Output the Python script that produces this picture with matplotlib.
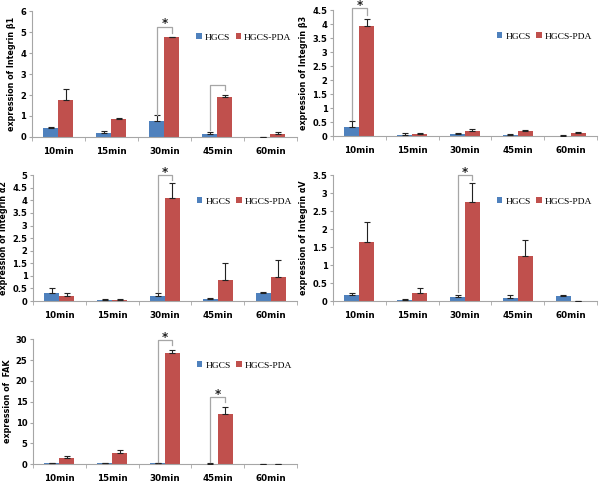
import matplotlib.pyplot as plt
import numpy as np
from matplotlib.ticker import FuncFormatter

times = ['10min', '15min', '30min', '45min', '60min']

# Integrin beta1
b1_hgcs = [0.42, 0.18, 0.75, 0.15, 0.02]
b1_hgcs_err = [0.05, 0.12, 0.30, 0.08, 0.0]
b1_pda = [1.78, 0.87, 4.78, 1.92, 0.15]
b1_pda_err = [0.52, 0.03, 0.0, 0.10, 0.07]

# Integrin beta3
b3_hgcs = [0.33, 0.03, 0.06, 0.04, 0.01]
b3_hgcs_err = [0.22, 0.07, 0.05, 0.02, 0.03]
b3_pda = [3.93, 0.06, 0.18, 0.17, 0.09]
b3_pda_err = [0.24, 0.05, 0.07, 0.03, 0.04]

# Integrin alpha2
a2_hgcs = [0.33, 0.05, 0.22, 0.10, 0.33]
a2_hgcs_err = [0.20, 0.03, 0.10, 0.03, 0.02]
a2_pda = [0.20, 0.05, 4.10, 0.85, 0.95]
a2_pda_err = [0.10, 0.02, 0.60, 0.68, 0.67]

# Integrin alphaV
av_hgcs = [0.17, 0.03, 0.12, 0.09, 0.15]
av_hgcs_err = [0.05, 0.04, 0.06, 0.09, 0.02]
av_pda = [1.64, 0.22, 2.76, 1.26, 0.0]
av_pda_err = [0.56, 0.15, 0.53, 0.43, 0.0]

# FAK
fak_hgcs = [0.20, 0.25, 0.20, 0.15, 0.02]
fak_hgcs_err = [0.10, 0.10, 0.08, 0.08, 0.0]
fak_pda = [1.40, 2.80, 26.7, 12.0, 0.05]
fak_pda_err = [0.60, 0.60, 0.70, 1.80, 0.10]

BLUE = '#4F81BD'
RED = '#C0504D'
GRAY = '#A6A6A6'
W = 0.283

fig = plt.figure(figsize=(6, 4.84), dpi=100)


def panel(rect, hgcs, hgcs_err, pda, pda_err, ymax, ystep, ylabel, brackets):
    ax = fig.add_axes(rect)
    x = np.arange(len(times))
    ax.bar(x - W / 2, hgcs, W, color=BLUE, label='HGCS', zorder=2)
    ax.bar(x + W / 2, pda, W, color=RED, label='HGCS-PDA', zorder=2)
    zeros = np.zeros(len(times))
    ax.errorbar(x - W / 2, hgcs, yerr=[zeros, hgcs_err], fmt='none', ecolor='#222222',
                elinewidth=0.8, capsize=2, capthick=0.8, zorder=3)
    ax.errorbar(x + W / 2, pda, yerr=[zeros, pda_err], fmt='none', ecolor='#222222',
                elinewidth=0.8, capsize=2, capthick=0.8, zorder=3)

    for i, y_left, y_top, y_right, star in brackets:
        ax.plot([i - W / 2, i - W / 2, i + W / 2, i + W / 2], [y_left, y_top, y_top, y_right],
                color=GRAY, lw=0.9, clip_on=False, zorder=4)
        if star:
            ax.annotate('*', (i, y_top), xytext=(0, -2.5), textcoords='offset points',
                        ha='center', va='bottom', fontsize=8.5, fontweight='bold',
                        color='#222222', annotation_clip=False)

    ax.set_xlim(-0.5, len(times) - 0.5)
    ax.set_ylim(0, ymax)
    ax.set_yticks(np.arange(0, ymax + ystep / 2, ystep))
    ax.yaxis.set_major_formatter(FuncFormatter(lambda v, p: f'{v:g}'))
    ax.set_xticks(x)
    ax.set_xticklabels(times)
    ax.set_xticks(np.arange(-0.5, len(times)), minor=True)
    ax.tick_params(axis='x', which='major', length=0, pad=7, labelsize=6.3)
    ax.tick_params(axis='x', which='minor', length=3, color=GRAY, direction='out')
    ax.tick_params(axis='y', length=2, color=GRAY, pad=2, labelsize=6)
    for lbl in ax.get_xticklabels() + ax.get_yticklabels():
        lbl.set_fontweight('bold')
    for side in ['top', 'right']:
        ax.spines[side].set_visible(False)
    for side in ['left', 'bottom']:
        ax.spines[side].set_color(GRAY)
        ax.spines[side].set_linewidth(0.8)
    ax.set_ylabel(ylabel, fontsize=5.8, fontweight='bold', labelpad=3)
    ax.legend(loc='center left', bbox_to_anchor=(0.62, 0.79), ncol=2, frameon=False,
              prop={'family': 'Liberation Serif', 'size': 6.8}, handlelength=0.6,
              handleheight=0.6, handletextpad=0.3, columnspacing=0.6, borderaxespad=0,
              borderpad=0)
    return ax


panel([0.053, 0.717, 0.442, 0.260], b1_hgcs, b1_hgcs_err, b1_pda, b1_pda_err, 6, 1,
      'expression of Integrin β1',
      [(2, 1.05, 5.25, 4.95, True), (3, 0.32, 2.47, 2.23, False)])
panel([0.555, 0.719, 0.440, 0.260], b3_hgcs, b3_hgcs_err, b3_pda, b3_pda_err, 4.5, 0.5,
      'expression of Integrin β3',
      [(0, 0.57, 4.56, 4.32, True)])
panel([0.055, 0.378, 0.440, 0.260], a2_hgcs, a2_hgcs_err, a2_pda, a2_pda_err, 5, 0.5,
      'expression of Integrin α2',
      [(2, 0.35, 5.0, 4.8, True)])
panel([0.555, 0.378, 0.440, 0.260], av_hgcs, av_hgcs_err, av_pda, av_pda_err, 3.5, 0.5,
      'expression of Integrin αV',
      [(2, 0.25, 3.5, 3.36, True)])
panel([0.055, 0.041, 0.440, 0.258], fak_hgcs, fak_hgcs_err, fak_pda, fak_pda_err, 30, 5,
      'expression of  FAK',
      [(2, 0.6, 29.8, 28.6, True), (3, 0.4, 16.1, 15.0, True)])

fig.savefig('out.png', dpi=100)
